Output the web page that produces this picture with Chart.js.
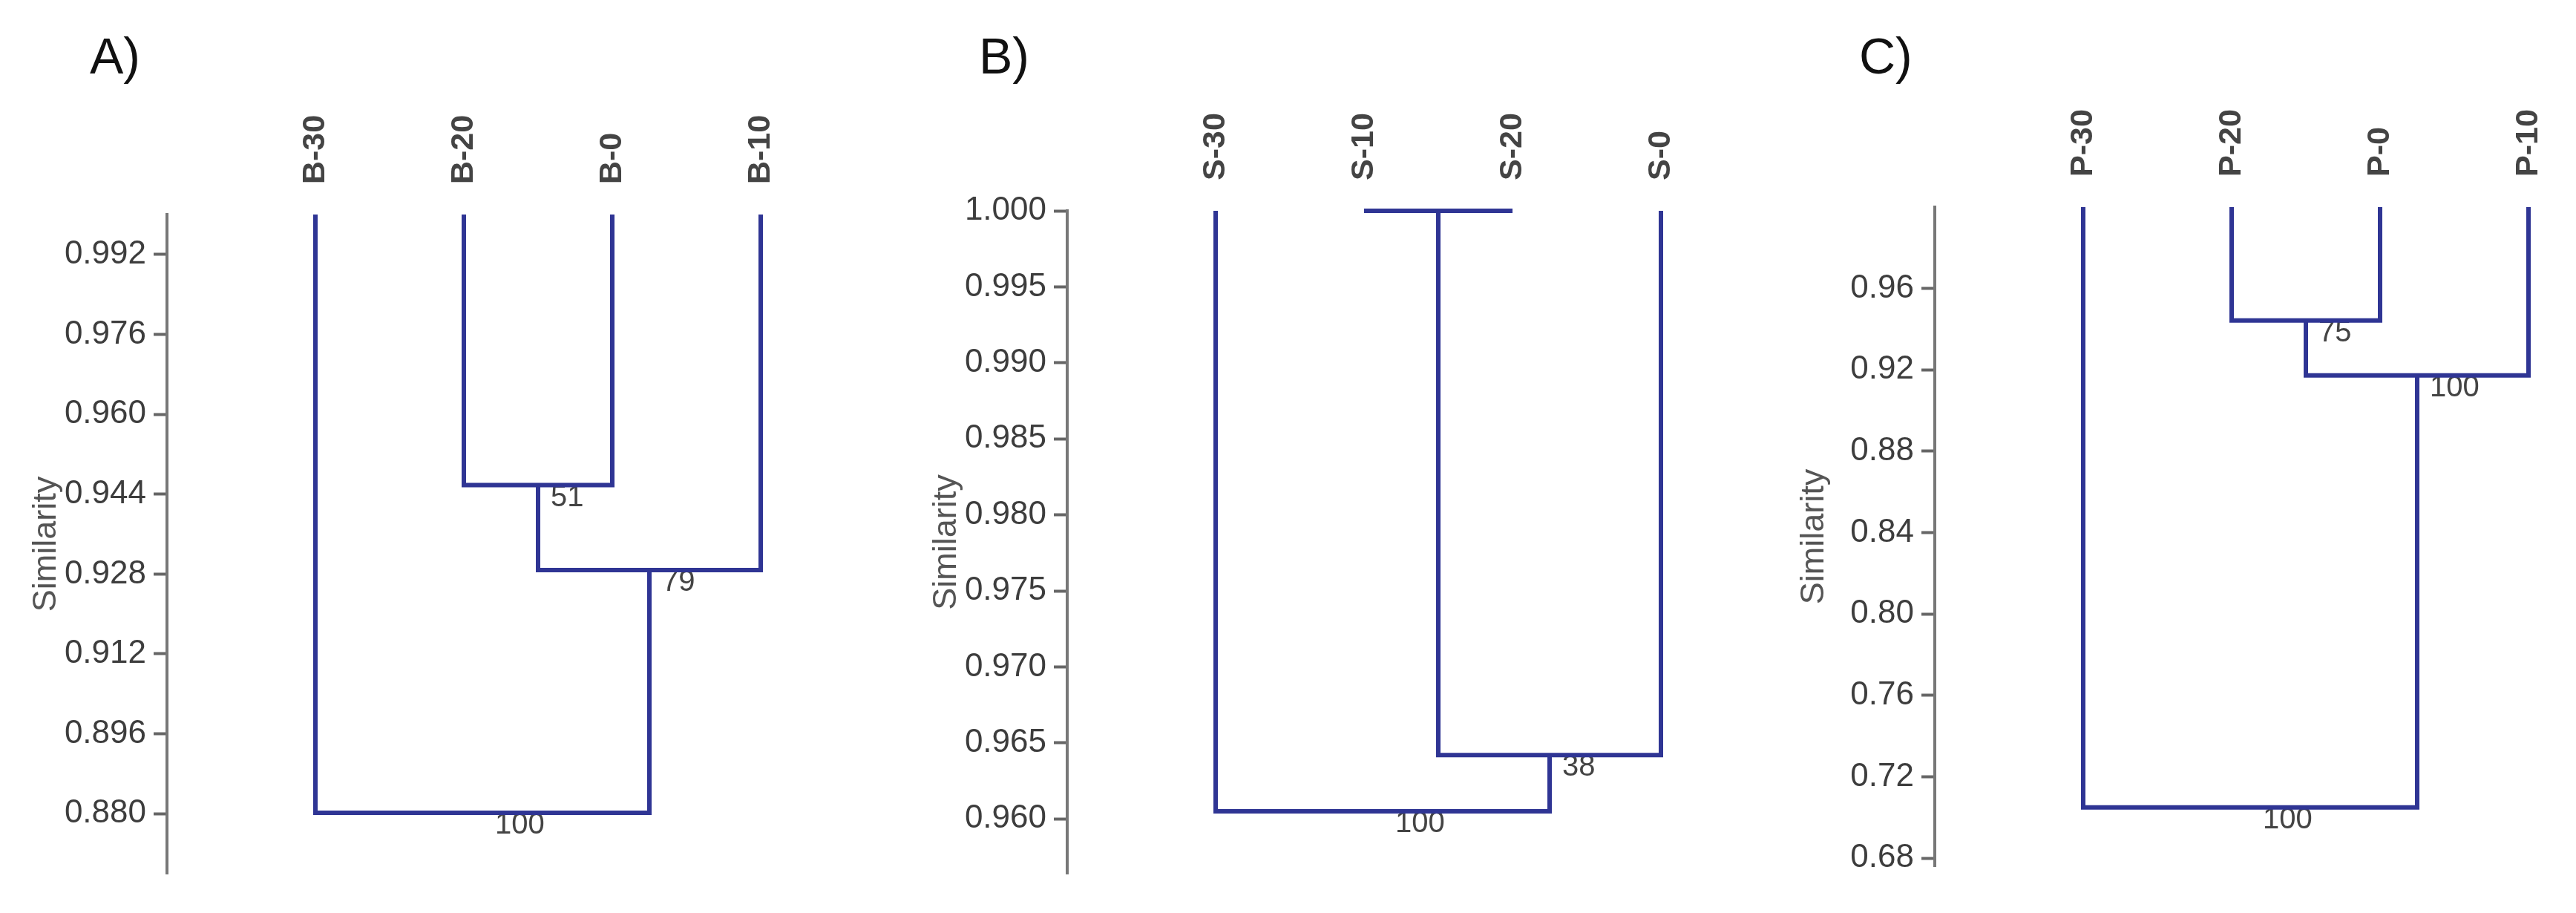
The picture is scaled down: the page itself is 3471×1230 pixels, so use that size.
<!DOCTYPE html>
<html>
<head>
<meta charset="utf-8">
<title>Similarity dendrograms</title>
<script src="https://cdn.jsdelivr.net/npm/chart.js@4.4.1/dist/chart.umd.min.js"></script>
<style>
  html, body { margin: 0; padding: 0; background: #fff; }
  #page { position: relative; width: 3471px; height: 1230px; overflow: hidden; background: #fff; }
  #page canvas { position: absolute; top: 0; }
  .panel-tag { position: absolute; top: 41px; font: 68px/68px "Liberation Sans", Arial, sans-serif; color: #111; }
</style>
</head>
<body>
<div id="page">
  <div class="panel-tag" style="left:121px">A)</div>
  <div class="panel-tag" style="left:1319px">B)</div>
  <div class="panel-tag" style="left:2505px">C)</div>
  <canvas id="chartA" width="1140" height="1230" style="left:0px"></canvas>
  <canvas id="chartB" width="1140" height="1230" style="left:1213px"></canvas>
  <canvas id="chartC" width="1140" height="1230" style="left:2382px"></canvas>
</div>
<script>
// A) leaves, merges (cluster ids: leaves 0..3, merges 4,5,6), similarity, bootstrap
var leavesA = ["B-30", "B-20", "B-0", "B-10"];
var joinLeftA = [1, 4, 0];
var joinRightA = [2, 3, 5];
var joinSimA = [0.9458, 0.9288, 0.8802];
var joinBootA = [51, 79, 100];
var yTicksA = [0.880, 0.896, 0.912, 0.928, 0.944, 0.960, 0.976, 0.992];
var yTickLabelsA = ["0.880", "0.896", "0.912", "0.928", "0.944", "0.960", "0.976", "0.992"];
var yRangeA = [0.868, 1.0];

// B)
var leavesB = ["S-30", "S-10", "S-20", "S-0"];
var joinLeftB = [1, 4, 0];
var joinRightB = [2, 3, 5];
var joinSimB = [1.0, 0.9642, 0.9605];
var joinBootB = [null, 38, 100];
var yTicksB = [0.960, 0.965, 0.970, 0.975, 0.980, 0.985, 0.990, 0.995, 1.000];
var yTickLabelsB = ["0.960", "0.965", "0.970", "0.975", "0.980", "0.985", "0.990", "0.995", "1.000"];
var yRangeB = [0.9564, 1.0];

// C)
var leavesC = ["P-30", "P-20", "P-0", "P-10"];
var joinLeftC = [1, 4, 0];
var joinRightC = [2, 3, 5];
var joinSimC = [0.9443, 0.9173, 0.7049];
var joinBootC = [75, 100, 100];
var yTicksC = [0.68, 0.72, 0.76, 0.80, 0.84, 0.88, 0.92, 0.96];
var yTickLabelsC = ["0.68", "0.72", "0.76", "0.80", "0.84", "0.88", "0.92", "0.96"];
var yRangeC = [0.676, 1.0];

(function () {
  "use strict";

  var FONT = "'Liberation Sans', Arial, sans-serif";
  var LINE_COLOR = "#2f3594";
  var X_AXIS_H = 150;
  var LEAF_FONT = 43;

  function buildTree(leaves, lefts, rights, sims, top) {
    var xs = leaves.map(function (_, i) { return i; });
    var ys = leaves.map(function () { return top; });
    var n = leaves.length;
    var segs = [];
    lefts.forEach(function (l, k) {
      var r = rights[k];
      var s = sims[k];
      xs[n + k] = (xs[l] + xs[r]) / 2;
      ys[n + k] = s;
      segs.push([
        { x: xs[l], y: ys[l] },
        { x: xs[l], y: s },
        { x: xs[r], y: s },
        { x: xs[r], y: ys[r] }
      ]);
    });
    return { xs: xs, segs: segs, n: n };
  }

  function makePanel(id, leaves, lefts, rights, sims, boots, ticks, tickLabels, range, box) {
    var tree = buildTree(leaves, lefts, rights, sims, range[1]);

    var bootPlugin = {
      id: "bootLabels",
      beforeDatasetsDraw: function (chart) {
        var ctx = chart.ctx;
        var xs = chart.scales.x;
        var ys = chart.scales.y;
        ctx.save();
        ctx.font = "40px " + FONT;
        ctx.fillStyle = "#444";
        ctx.textAlign = "left";
        ctx.textBaseline = "top";
        boots.forEach(function (b, k) {
          if (b === null) return;
          var px = xs.getPixelForValue(tree.xs[tree.n + k]) + 17;
          var py = ys.getPixelForValue(sims[k]) - 3;
          ctx.fillText(String(b), px, py);
        });
        ctx.restore();
      }
    };

    return new Chart(document.getElementById(id), {
      type: "line",
      data: {
        datasets: tree.segs.map(function (seg) {
          return {
            data: seg,
            borderColor: LINE_COLOR,
            borderWidth: 6,
            borderJoinStyle: "miter",
            borderCapStyle: "butt",
            pointRadius: 0,
            fill: false,
            tension: 0,
            clip: false
          };
        })
      },
      options: {
        responsive: false,
        devicePixelRatio: 1,
        animation: false,
        layout: {
          padding: { top: box.top - X_AXIS_H, bottom: 1230 - box.bottom, left: 36, right: 15 }
        },
        plugins: {
          legend: { display: false },
          tooltip: { enabled: false }
        },
        scales: {
          x: {
            type: "linear",
            position: "top",
            min: -1,
            max: 3.5,
            grid: { display: false, drawTicks: false },
            border: { display: false },
            afterBuildTicks: function (scale) {
              scale.ticks = leaves.map(function (_, i) { return { value: i }; });
            },
            afterFit: function (scale) { scale.height = X_AXIS_H; },
            ticks: {
              autoSkip: false,
              minRotation: 90,
              maxRotation: 90,
              padding: 41,
              // rotated labels on a top axis sit one line-height left of the tick
              labelOffset: LEAF_FONT * 1.2,
              color: "#444",
              font: { family: FONT, size: LEAF_FONT, weight: "bold" },
              callback: function (v, i) { return leaves[i]; }
            }
          },
          y: {
            type: "linear",
            position: "left",
            min: range[0],
            max: range[1],
            afterBuildTicks: function (scale) {
              scale.ticks = ticks.map(function (v) { return { value: v }; });
            },
            afterFit: function (scale) { scale.width = 189; },
            grid: {
              display: true,
              drawOnChartArea: false,
              drawTicks: true,
              tickLength: 18,
              tickWidth: 4,
              tickColor: "#666"
            },
            border: { display: true, color: "#777", width: 4 },
            title: {
              display: true,
              text: "Similarity",
              color: "#555",
              padding: { top: 0, bottom: 0 },
              font: { family: FONT, size: 45 }
            },
            ticks: {
              padding: 10,
              color: "#3d3d3d",
              font: { family: FONT, size: 44 },
              callback: function (v, i) { return tickLabels[i]; }
            }
          }
        }
      },
      plugins: [bootPlugin]
    });
  }

  makePanel("chartA", leavesA, joinLeftA, joinRightA, joinSimA, joinBootA,
    yTicksA, yTickLabelsA, yRangeA, { top: 289, bottom: 1177 });
  makePanel("chartB", leavesB, joinLeftB, joinRightB, joinSimB, joinBootB,
    yTicksB, yTickLabelsB, yRangeB, { top: 284, bottom: 1177 });
  makePanel("chartC", leavesC, joinLeftC, joinRightC, joinSimC, joinBootC,
    yTicksC, yTickLabelsC, yRangeC, { top: 279, bottom: 1167 });
})();
</script>
</body>
</html>
